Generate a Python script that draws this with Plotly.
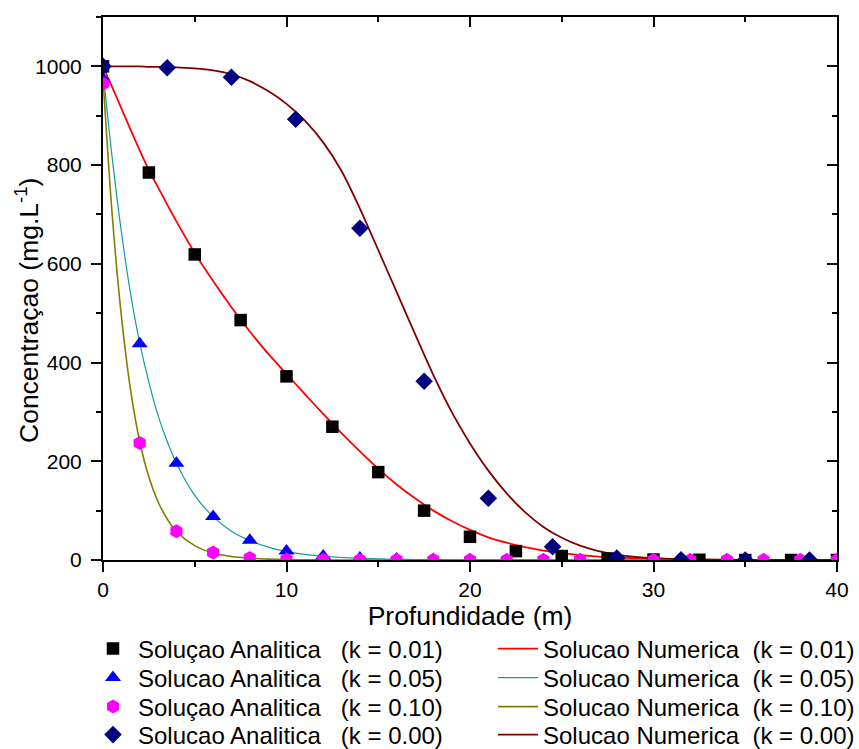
import plotly.graph_objects as go

# ---------------- data ----------------
# Analytic solutions (markers)
x_k001 = [0, 2.5, 5, 7.5, 10, 12.5, 15, 17.5, 20, 22.5, 25, 27.5, 30, 32.5, 35, 37.5, 40]
y_k001 = [1000, 785, 619, 486, 372, 270, 178, 100, 47, 18, 8, 3, 1, 0.5, 0, 0, 0]

x_k005 = [0, 2, 4, 6, 8, 10, 12, 14, 16, 18, 20, 22, 24, 26, 28, 30, 32, 34, 36, 38, 40]
y_k005 = [975, 438, 196, 88, 40, 18, 8, 4, 2, 1, 0.5, 0.3, 0.2, 0.1, 0, 0, 0, 0, 0, 0, 0]

x_k010 = [0, 2, 4, 6, 8, 10, 12, 14, 16, 18, 20, 22, 24, 26, 28, 30, 32, 34, 36, 38, 40]
y_k010 = [965, 237, 58, 15, 4, 1, 0.3, 0, 0, 0, 0, 0, 0, 0, 0, 0, 0, 0, 0, 0, 0]

x_k000 = [0, 3.5, 7, 10.5, 14, 17.5, 21, 24.5, 28, 31.5, 35, 38.5]
y_k000 = [1000, 997, 978, 893, 672, 362, 125, 27, 4, 0.5, 0, 0]

# Numeric solutions (lines)
x_num = [0, 0.5, 1, 1.5, 2, 2.5, 3, 3.5, 4, 5, 6, 7, 8, 9, 10, 11, 12, 13, 14, 15,
         16, 17, 18, 19, 20, 21, 22, 23, 24, 25, 26, 27, 28, 29, 30, 32, 34, 36, 38, 40]
num_k001 = [1000, 958, 915, 872, 830, 790, 755, 720, 686, 622, 565, 512, 463, 418, 377,
            336, 296, 257, 220, 185, 153, 125, 100, 79, 61, 46, 35, 26, 19, 14, 10, 7,
            5, 3.5, 2.5, 1.2, 0.6, 0.3, 0.1, 0]
num_k005 = [990, 815, 665, 540, 440, 360, 293, 240, 196, 131, 88, 58, 39, 26, 17,
            11.5, 7.7, 5.1, 3.4, 2.3, 1.5, 1, 0.7, 0.45, 0.3, 0.2, 0.15, 0.1, 0.05, 0,
            0, 0, 0, 0, 0, 0, 0, 0, 0, 0]
num_k010 = [975, 700, 495, 345, 240, 168, 118, 83, 58, 29, 14, 7, 3.5, 1.7, 0.8,
            0.4, 0.2, 0.1, 0, 0, 0, 0, 0, 0, 0, 0, 0, 0, 0, 0,
            0, 0, 0, 0, 0, 0, 0, 0, 0, 0]
num_k000 = [1000, 1000, 1000, 1000, 1000, 999, 999, 999, 998, 996, 992, 984, 970, 950, 924,
            890, 846, 788, 712, 628, 543, 458, 375, 300, 236, 181, 135, 97, 67, 45,
            29, 18, 11, 6.5, 3.7, 1.2, 0.4, 0.1, 0, 0]

S = "\u00a0"
names_analytic = [
    "Soluçao Analitica" + S * 3 + "(k = 0.01)",
    "Solucao Analitica" + S * 3 + "(k = 0.05)",
    "Soluçao Analitica" + S * 3 + "(k = 0.10)",
    "Solucao Analitica" + S * 3 + "(k = 0.00)",
]
names_numeric = [
    "Solucao Numerica" + S * 2 + "(k = 0.01)",
    "Solucao Numerica" + S * 2 + "(k = 0.05)",
    "Solucao Numerica" + S * 2 + "(k = 0.10)",
    "Solucao Numerica" + S * 2 + "(k = 0.00)",
]

FONT = "Liberation Sans, Arial, sans-serif"

# plot area in pixels (for placing legends / y title)
PL, PR, PT, PB = 103, 837, 17, 560
PW, PH = PR - PL, PB - PT
row_px = [649, 678, 707, 735]
col1_left_px = 88
col2_left_px = 493


def px_to_paper_x(px):
    return (px - PL) / PW


def px_to_paper_y(py):
    return (PB - py) / PH


fig = go.Figure()

line_specs = [
    (num_k001, "#FF0000", 1.8),
    (num_k005, "#119C9C", 1.2),
    (num_k010, "#808000", 1.6),
    (num_k000, "#800000", 1.8),
]
for i, (yv, col, w) in enumerate(line_specs):
    fig.add_trace(go.Scatter(
        x=x_num, y=yv, mode="lines", name=names_numeric[i],
        line=dict(color=col, width=w, shape="spline", smoothing=0.8),
        legend="legend%d" % (5 + i),
    ))

marker_specs = [
    (x_k001, y_k001, "square", "#000000", 12.5),
    (x_k005, y_k005, "triangle-up", "#0000FF", 14),
    (x_k010, y_k010, "hexagon", "#FF00FF", 14),
    (x_k000, y_k000, "diamond", "#000080", 13.5),
]
for i, (xv, yv, sym, col, sz) in enumerate(marker_specs):
    fig.add_trace(go.Scatter(
        x=xv, y=yv, mode="markers", name=names_analytic[i],
        marker=dict(symbol=sym, color=col, size=sz, line=dict(width=0)),
        legend="legend" if i == 0 else "legend%d" % (1 + i),
    ))

# helper empty trace for mirrored (inside-tick) axes
fig.add_trace(go.Scatter(x=[], y=[], xaxis="x2", yaxis="y2", showlegend=False))

axis_common = dict(
    showline=True, linewidth=2, linecolor="black", showgrid=False, zeroline=False,
    tickcolor="black", tickwidth=2,
)

legend_common = dict(
    xanchor="left", yanchor="middle", itemwidth=40,
    font=dict(family=FONT, size=24, color="black"),
    bgcolor="rgba(0,0,0,0)", orientation="v",
)
legends = {}
for i in range(4):
    key = "legend" if i == 0 else "legend%d" % (1 + i)
    legends[key] = dict(x=px_to_paper_x(col1_left_px), y=px_to_paper_y(row_px[i]), **legend_common)
    legends["legend%d" % (5 + i)] = dict(x=px_to_paper_x(col2_left_px), y=px_to_paper_y(row_px[i]), **legend_common)

fig.update_layout(
    width=859, height=749,
    margin=dict(l=PL, r=859 - PR, t=PT, b=749 - PB, autoexpand=False),
    paper_bgcolor="white", plot_bgcolor="white",
    font=dict(family=FONT, color="black", size=21),
    xaxis=dict(
        range=[0, 40], tick0=0, dtick=10, ticks="outside", ticklen=10,
        minor=dict(dtick=5, ticks="outside", ticklen=5, tickwidth=2, tickcolor="black"),
        tickfont=dict(size=21),
        title=dict(text="Profundidade (m)", font=dict(size=26.5), standoff=2),
        **axis_common,
    ),
    yaxis=dict(
        range=[0, 1100], tick0=0, dtick=200, ticks="outside", ticklen=10,
        ticklabelstandoff=5,
        minor=dict(dtick=100, ticks="outside", ticklen=5, tickwidth=2, tickcolor="black"),
        tickfont=dict(size=21),
        **axis_common,
    ),
    xaxis2=dict(
        overlaying="x", side="top", anchor="y", range=[0, 40], tick0=0, dtick=10,
        ticks="inside", ticklen=10, showticklabels=False,
        minor=dict(dtick=5, ticks="inside", ticklen=5, tickwidth=2, tickcolor="black"),
        **axis_common,
    ),
    yaxis2=dict(
        overlaying="y", side="right", anchor="x", range=[0, 1100], tick0=0, dtick=200,
        ticks="inside", ticklen=10, showticklabels=False,
        minor=dict(dtick=100, ticks="inside", ticklen=5, tickwidth=2, tickcolor="black"),
        **axis_common,
    ),
    annotations=[dict(
        text="Concentraçao (mg.L<sup>-1</sup>)", textangle=-90, showarrow=False,
        xref="paper", yref="paper", x=px_to_paper_x(27), y=px_to_paper_y(311),
        xanchor="center", yanchor="middle", font=dict(family=FONT, size=26.5, color="black"),
    )],
    showlegend=True,
    **legends,
)

fig.write_html("out.html")
